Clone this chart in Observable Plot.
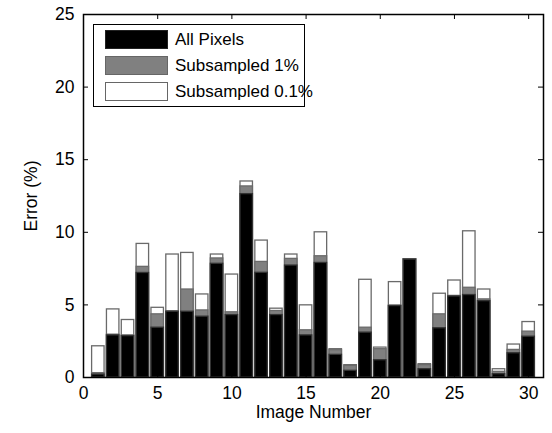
<!DOCTYPE html>
<html>
<head>
<meta charset="utf-8">
<script src="https://cdn.jsdelivr.net/npm/d3@7"></script>
<script src="https://cdn.jsdelivr.net/npm/@observablehq/plot@0.6"></script>
<style>
  html, body { margin: 0; padding: 0; background: #fff; }
  #wrap { position: relative; width: 552px; height: 433px; font-family: "Liberation Sans", Arial, sans-serif; }
  #legend { position: absolute; left: 93px; top: 24px; width: 212px; height: 83px; border: 1.5px solid #000; background: #fff; box-sizing: border-box; }
  .row { position: absolute; left: 11px; height: 19px; display: flex; align-items: center; }
  .sw { width: 63px; height: 19px; box-sizing: border-box; border: 1.5px solid #666; }
  .lab { margin-left: 7px; font-size: 17px; color: #000; white-space: nowrap; }
</style>
</head>
<body>
<div id="wrap"></div>
<script>
const images = d3.range(1, 31);
const allPixels = [0.2, 2.9, 2.85, 7.2, 3.43, 4.53, 4.53, 4.19, 7.83, 4.3,
                   12.63, 7.21, 4.3, 7.71, 2.9, 7.89, 1.56, 0.46, 3.09, 1.19,
                   4.92, 8.12, 0.57, 3.39, 5.58, 5.68, 5.26, 0.23, 1.67, 2.81];
const sub1 = [0.3, 2.95, 2.9, 7.62, 4.35, 4.56, 6.06, 4.62, 8.2, 4.49,
              13.16, 7.96, 4.58, 8.17, 3.25, 8.35, 1.88, 0.8, 3.43, 1.95,
              4.96, 8.15, 0.85, 4.35, 5.62, 6.18, 5.38, 0.39, 1.9, 3.16];
const sub01 = [2.15, 4.69, 3.96, 9.2, 4.8, 8.47, 8.58, 5.72, 8.47, 7.09,
               13.5, 9.43, 4.74, 8.47, 4.97, 10.0, 1.95, 0.85, 6.73, 2.06,
               6.57, 8.15, 0.92, 5.77, 6.68, 10.07, 6.06, 0.57, 2.27, 3.82];
const seriesNames = ["All Pixels", "Subsampled 1%", "Subsampled 0.1%"];
const seriesFill = ["#000000", "#808080", "#ffffff"];
const xTicks = [0, 5, 10, 15, 20, 25, 30];
const yTicks = [0, 5, 10, 15, 20, 25];

const data = [];
// overlaid (not stacked): white drawn first, then gray, then black on top
[[sub01, 2], [sub1, 1], [allPixels, 0]].forEach(([vals, s]) => {
  vals.forEach((v, i) => data.push({img: images[i], value: v, series: seriesNames[s], fill: seriesFill[s]}));
});

const W = 552, H = 433, mL = 83, mR = 9, mT = 14, mB = 56;
const ph = H - mT - mB, pw = W - mL - mR;
const half = 0.42;

const chart = Plot.plot({
  width: W, height: H,
  marginLeft: mL, marginRight: mR, marginTop: mT, marginBottom: mB,
  style: {fontFamily: "Liberation Sans, Arial, sans-serif", fontSize: "17.5px", color: "#000", background: "#fff"},
  x: {domain: [0, 31]},
  y: {domain: [0, 25]},
  marks: [
    Plot.rect(data, {
      x1: d => d.img - half, x2: d => d.img + half, y1: 0, y2: "value",
      fill: "fill", stroke: d => d.fill === "#000000" ? "#333" : "#6a6a6a", strokeWidth: 1.3
    }),
    Plot.axisX({ticks: xTicks, tickSize: 0, tickPadding: 9, label: "Image Number", labelAnchor: "center", labelArrow: "none", labelOffset: 40}),
    Plot.axisY({ticks: yTicks, tickSize: 0, tickPadding: 9, label: "Error (%)", labelAnchor: "center", labelArrow: "none", labelOffset: 59}),
    Plot.ruleX(xTicks, {insetTop: ph - 5, stroke: "#000", strokeWidth: 1}),
    Plot.ruleX(xTicks, {insetBottom: ph - 5, stroke: "#000", strokeWidth: 1}),
    Plot.ruleY(yTicks, {insetRight: pw - 5, stroke: "#000", strokeWidth: 1}),
    Plot.ruleY(yTicks, {insetLeft: pw - 5, stroke: "#000", strokeWidth: 1}),
    Plot.frame({stroke: "#000", strokeWidth: 1.5})
  ]
});

const wrap = document.getElementById("wrap");
wrap.appendChild(chart);

const legend = document.createElement("div");
legend.id = "legend";
seriesNames.forEach((name, i) => {
  const row = document.createElement("div");
  row.className = "row";
  row.style.top = (5 + i * 26) + "px";
  const sw = document.createElement("div");
  sw.className = "sw";
  sw.style.background = seriesFill[i];
  if (i === 0) sw.style.borderColor = "#222";
  const lab = document.createElement("span");
  lab.className = "lab";
  lab.textContent = name;
  row.appendChild(sw); row.appendChild(lab);
  legend.appendChild(row);
});
wrap.appendChild(legend);
</script>
</body>
</html>
